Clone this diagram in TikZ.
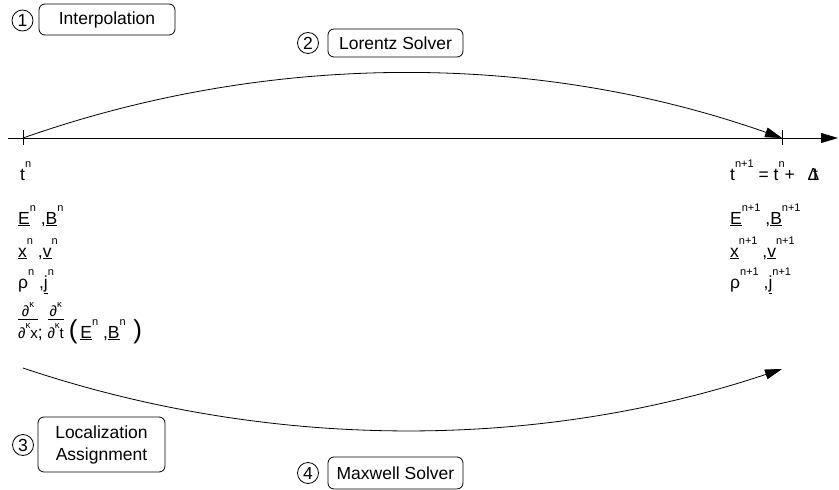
\documentclass[tikz,border=0pt]{standalone}
\usepackage{fontspec}
\setmainfont{Liberation Sans}
\usetikzlibrary{arrows.meta}
% raised small index
\newcommand\sups[1]{\raisebox{0.72em}{\fontsize{11}{11}\selectfont #1}}
% smaller index used inside the derivative fractions
\newcommand\fsups[1]{\raisebox{0.62em}{\fontsize{9.5}{9.5}\selectfont #1}}
% stacked fraction with a rule, baseline on the denominator
\newcommand\dfrc[2]{{\fontsize{15}{15}\selectfont\setlength\tabcolsep{0pt}\setlength\arrayrulewidth{0.8pt}\renewcommand\arraystretch{0}\begin{tabular}[b]{c}#1\rule[-2.5pt]{0pt}{2.5pt}\\\hline\rule{0pt}{18pt}#2\end{tabular}}}
\newcommand\bigpar[1]{{\fontsize{26}{26}\selectfont #1}}
\begin{document}
\begin{tikzpicture}[x=1pt,y=-1pt,
  every node/.style={font=\fontsize{17.5}{21}\selectfont},
  stepbox/.style={draw, rounded corners=6pt, line width=0.8pt, inner sep=0pt, align=center},
  numcirc/.style={draw, circle, line width=0.8pt, minimum size=21pt, inner sep=0pt},
  txt/.style={anchor=base west, inner sep=0pt},
  flow/.style={line width=0.8pt, -{Triangle[length=17pt,width=10pt]}},
  tickmark/.style={line width=0.8pt}]
\useasboundingbox (0,0) rectangle (839,490);

% time axis with the two time marks
\coordinate (axs) at (8,138);
\coordinate (axe) at (838,138);
\coordinate (t0) at (23,138);
\coordinate (t1) at (782,138);
\draw[flow] (axs) -- (axe);
\draw[tickmark] ([yshift=8pt]t0) -- ([yshift=-7pt]t0);
\draw[tickmark] ([yshift=8pt]t1) -- ([yshift=-7pt]t1);

% particle push (upper) and field update (lower)
\draw[flow] (t0) .. controls (268.7,51.5) and (536.3,51.5) .. (t1);
\coordinate (l0) at (23,368);
\coordinate (l1) at (782,369);
\draw[flow] (l0) .. controls (268.6,450.7) and (536.6,451) .. (l1);

% numbered steps
\node[numcirc] (c1) at (22.5,20.5) {1};
\node[stepbox, minimum width=136pt, minimum height=31pt] (interp) at (107,19.5) {Interpolation};
\node[numcirc] (c2) at (308,43) {2};
\node[stepbox, minimum width=135pt, minimum height=28pt] (lorentz) at (395.5,43) {Lorentz Solver};
\node[numcirc] (c3) at (23,445) {3};
\node[stepbox, minimum width=127pt, minimum height=55pt] (local) at (101.5,444.5) {Localization\\[1pt]Assignment};
\node[numcirc] (c4) at (308,473) {4};
\node[stepbox, minimum width=135pt, minimum height=32pt] (maxwell) at (395.5,473) {Maxwell Solver};

% quantities at t^n
\node[txt] (tn) at (20,180) {t\sups{n}};
\node[txt] (fn) at (18,224) {\underline{E}\sups{n} ,\underline{B}\sups{n}};
\node[txt] (pn) at (18,257) {\underline{x}\sups{n} ,\underline{v}\sups{n}};
\node[txt] (sn) at (18,288) {ρ\sups{n} ,\underline{j}\sups{n}};
\node[txt] (dn) at (18,338) {\dfrc{∂\fsups{κ}}{∂\fsups{κ}x}; \dfrc{∂\fsups{κ}}{∂\fsups{κ}t} \bigpar{(}\,\underline{E}\sups{n} ,\underline{B}\sups{n} \,\bigpar{)}};

% quantities at t^{n+1}
\node[txt] (tn1) at (730,180) {t\sups{n+1} = t\sups{n}+ \ \,Δ\kern-0.35em t};
\node[txt] (fn1) at (730,224) {\underline{E}\sups{n+1} ,\underline{B}\sups{n+1}};
\node[txt] (pn1) at (730,257) {\underline{x}\sups{n+1} ,\underline{v}\sups{n+1}};
\node[txt] (sn1) at (730,288) {ρ\sups{n+1} ,\underline{j}\sups{n+1}};
\end{tikzpicture}
\end{document}
